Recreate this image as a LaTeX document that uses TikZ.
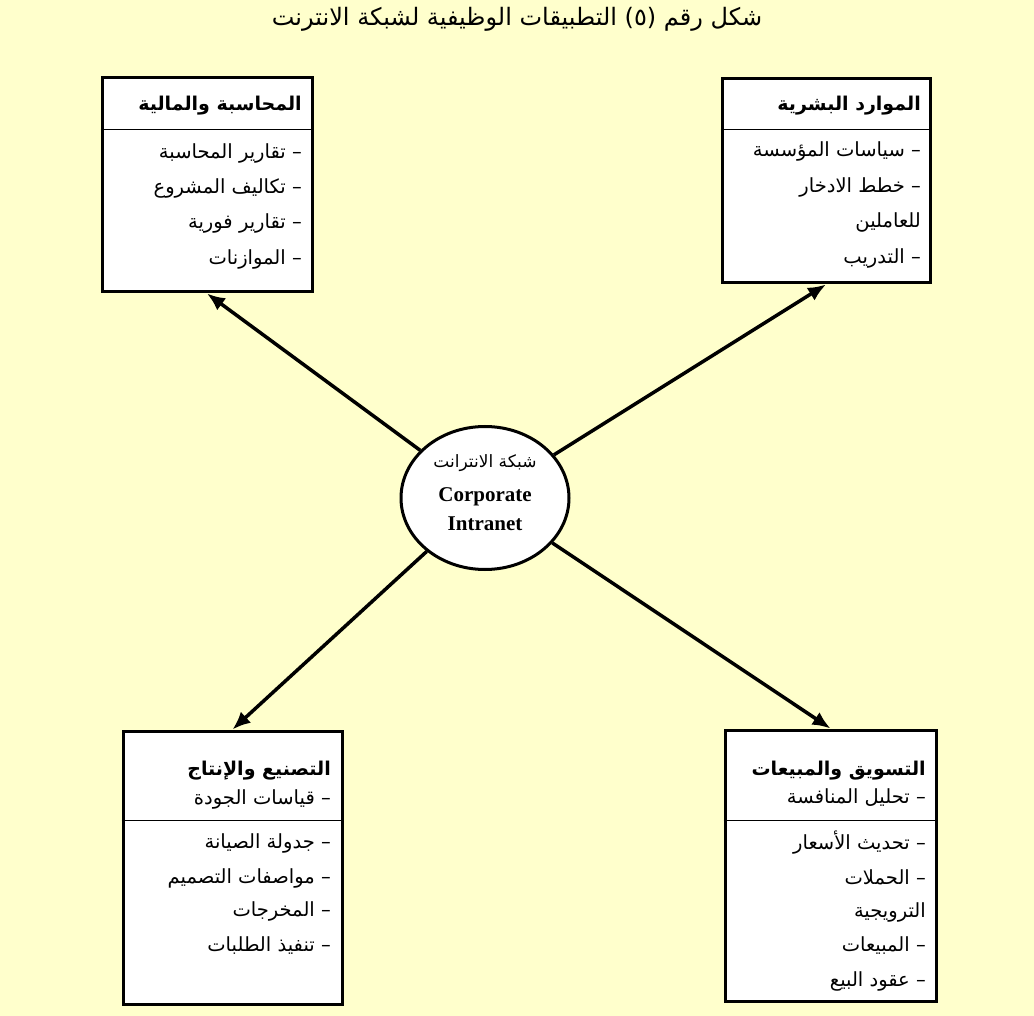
\documentclass[tikz,border=0pt]{standalone}
\usepackage{fontspec}
\setmainfont{Liberation Serif}
\newfontfamily\arabicfont[Script=Arabic]{DejaVu Sans}
\TeXXeTstate=1
\usetikzlibrary{arrows.meta,shapes.geometric}
\definecolor{bgyellow}{RGB}{255,255,204}
\newcommand{\ar}[1]{\arabicfont\beginR #1\endR}
\tikzset{
  box/.style={draw=black, line width=3pt, fill=white, rectangle, inner sep=0pt},
  sepline/.style={draw=black, line width=1pt},
  item/.style={anchor=east, inner sep=0pt, font=\arabicfont\fontsize{19.5}{22}\selectfont},
  head/.style={anchor=east, inner sep=0pt, font=\arabicfont\bfseries\fontsize{19}{22}\selectfont},
  arr/.style={draw=black, line width=3.5pt, -{Latex[length=18pt,width=15pt]}},
  hub/.style={ellipse, draw=black, line width=3pt, fill=white, minimum width=168pt, minimum height=143pt, inner sep=0pt}
}
\begin{document}
\begin{tikzpicture}[x=1pt,y=-1pt]
\fill[bgyellow] (0,0) rectangle (1034,1016);
\useasboundingbox (0,0) rectangle (1034,1016);

% title
\node[font=\arabicfont\fontsize{24}{26}\selectfont, inner sep=0pt] (title) at (517,19) {\ar{شكل رقم (٥) التطبيقات الوظيفية لشبكة الانترنت}};

% boxes
\node[box, minimum width=210pt, minimum height=214pt] (tl) at (207,185) {};
\node[box, minimum width=208pt, minimum height=204pt] (tr) at (826,181) {};
\node[box, minimum width=219pt, minimum height=273pt] (bl) at (232.5,867.5) {};
\node[box, minimum width=211pt, minimum height=271pt] (br) at (830.5,865.5) {};

% separators
\draw[sepline] (tl.west |- 0,130) -- (tl.east |- 0,130);
\draw[sepline] (tr.west |- 0,130) -- (tr.east |- 0,130);
\draw[sepline] (bl.west |- 0,820) -- (bl.east |- 0,820);
\draw[sepline] (br.west |- 0,820) -- (br.east |- 0,820);

% top-left texts
\node[head] (tlh) at (302,106) {\ar{المحاسبة والمالية}};
\node[item] (tl1) at (302,153) {\ar{– تقارير المحاسبة}};
\node[item] (tl2) at (302,188) {\ar{– تكاليف المشروع}};
\node[item] (tl3) at (302,223) {\ar{– تقارير فورية}};
\node[item] (tl4) at (302,259) {\ar{– الموازنات}};

% top-right texts
\node[head] (trh) at (921,106) {\ar{الموارد البشرية}};
\node[item] (tr1) at (921,151) {\ar{– سياسات المؤسسة}};
\node[item] (tr2) at (921,187) {\ar{– خطط الادخار}};
\node[item] (tr3) at (921,222) {\ar{للعاملين}};
\node[item] (tr4) at (921,258) {\ar{– التدريب}};

% bottom-left texts
\node[head] (blh) at (331,771) {\ar{التصنيع والإنتاج}};
\node[item] (bl1) at (331,799) {\ar{– قياسات الجودة}};
\node[item] (bl2) at (331,843) {\ar{– جدولة الصيانة}};
\node[item] (bl3) at (331,878) {\ar{– مواصفات التصميم}};
\node[item] (bl4) at (331,911) {\ar{– المخرجات}};
\node[item] (bl5) at (331,946) {\ar{– تنفيذ الطلبات}};

% bottom-right texts
\node[head] (brh) at (926,771) {\ar{التسويق والمبيعات}};
\node[item] (br1) at (926,798) {\ar{– تحليل المنافسة}};
\node[item] (br2) at (926,843) {\ar{– تحديث الأسعار}};
\node[item] (br3) at (926,877) {\ar{– الحملات}};
\node[item] (br4) at (926,912) {\ar{الترويجية}};
\node[item] (br5) at (926,946) {\ar{– المبيعات}};
\node[item] (br6) at (926,981) {\ar{– عقود البيع}};

% hub
\node[hub] (c) at (485,498) {};
\node[font=\arabicfont\fontsize{17}{19}\selectfont, inner sep=0pt] (c1) at (485,463) {\ar{شبكة الانترانت}};
\node[font=\bfseries\fontsize{21}{23}\selectfont, inner sep=0pt] (c2) at (485,497) {Corporate};
\node[font=\bfseries\fontsize{21}{23}\selectfont, inner sep=0pt] (c3) at (485,524) {Intranet};

% arrows
\draw[arr] (c) -- (tl.south);
\draw[arr] (c) -- (tr.south);
\draw[arr] (c) -- (bl.north);
\draw[arr] (c) -- (br.north);
\end{tikzpicture}
\end{document}
